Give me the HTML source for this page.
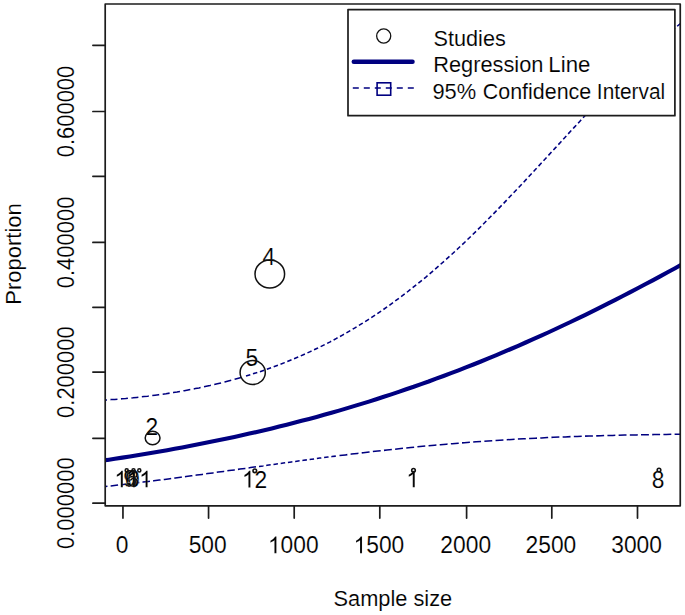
<!DOCTYPE html>
<html><head><meta charset="utf-8"><title>Meta-regression plot</title>
<style>
html,body{margin:0;padding:0;background:#fff;}
body{width:685px;height:615px;overflow:hidden;}
svg{display:block;}
text{font-family:"Liberation Sans",sans-serif;fill:#000;stroke:#fff;stroke-width:0.14px;}
.g1{stroke:#fff;stroke-width:12;}
</style></head><body>
<svg width="685" height="615" viewBox="0 0 685 615">
<rect x="0" y="0" width="685" height="615" fill="#fff"/>
<defs><clipPath id="pc"><rect x="105.20" y="4.00" width="575.05" height="501.80"/></clipPath></defs>
<g clip-path="url(#pc)" fill="none" stroke="#000080">
<path d="M100.0 460.9 L107.5 459.9 L114.9 458.7 L122.4 457.6 L129.9 456.4 L137.3 455.2 L144.8 454.0 L152.3 452.7 L159.7 451.5 L167.2 450.2 L174.7 448.8 L182.2 447.4 L189.6 446.0 L197.1 444.6 L204.6 443.1 L212.0 441.6 L219.5 440.1 L227.0 438.5 L234.4 436.9 L241.9 435.3 L249.4 433.6 L256.8 431.9 L264.3 430.2 L271.8 428.4 L279.2 426.5 L286.7 424.7 L294.2 422.8 L301.6 420.8 L309.1 418.9 L316.6 416.9 L324.1 414.8 L331.5 412.7 L339.0 410.6 L346.5 408.4 L353.9 406.1 L361.4 403.9 L368.9 401.6 L376.3 399.2 L383.8 396.8 L391.3 394.4 L398.7 391.9 L406.2 389.3 L413.7 386.8 L421.1 384.1 L428.6 381.5 L436.1 378.7 L443.5 376.0 L451.0 373.2 L458.5 370.3 L465.9 367.4 L473.4 364.5 L480.9 361.5 L488.4 358.4 L495.8 355.4 L503.3 352.2 L510.8 349.0 L518.2 345.8 L525.7 342.5 L533.2 339.2 L540.6 335.9 L548.1 332.5 L555.6 329.0 L563.0 325.5 L570.5 322.0 L578.0 318.4 L585.4 314.8 L592.9 311.1 L600.4 307.4 L607.8 303.7 L615.3 299.9 L622.8 296.0 L630.3 292.2 L637.7 288.3 L645.2 284.3 L652.7 280.4 L660.1 276.4 L667.6 272.3 L675.1 268.2 L682.5 264.1 L690.0 260.0" stroke-width="4.1" stroke-linecap="round" stroke-linejoin="round"/>
<path d="M100.0 400.3 L103.7 400.1 L107.3 399.9 L111.0 399.6 L114.7 399.4 L118.3 399.1 L122.0 398.8 L125.7 398.5 L129.3 398.1 L133.0 397.8 L136.7 397.4 L140.3 397.0 L144.0 396.6 L147.7 396.2 L151.3 395.7 L155.0 395.2 L158.7 394.7 L162.3 394.2 L166.0 393.7 L169.7 393.1 L173.3 392.6 L177.0 392.0 L180.7 391.3 L184.3 390.7 L188.0 390.0 L191.7 389.3 L195.3 388.6 L199.0 387.9 L202.7 387.1 L206.3 386.3 L210.0 385.5 L213.7 384.6 L217.3 383.8 L221.0 382.9 L224.7 382.0 L228.3 381.0 L232.0 380.0 L235.7 379.0 L239.3 378.0 L243.0 376.9" stroke-width="1.55" stroke-dasharray="7 3.5"/>
<path d="M246.0 376.0 L252.4 374.0 L258.9 372.0 L265.3 369.8 L271.7 367.5 L278.2 365.1 L284.6 362.6 L291.0 360.0 L297.5 357.3 L303.9 354.5 L310.3 351.6 L316.8 348.5 L323.2 345.4 L329.7 342.1 L336.1 338.6 L342.5 335.1 L349.0 331.4 L355.4 327.6 L361.8 323.7 L368.3 319.6 L374.7 315.4 L381.1 311.1 L387.6 306.6 L394.0 301.9 L400.4 297.2 L406.9 292.3 L413.3 287.2 L419.7 282.1 L426.2 276.8 L432.6 271.3 L439.0 265.7 L445.5 260.0 L451.9 254.2 L458.3 248.3 L464.8 242.2 L471.2 236.0 L477.7 229.7 L484.1 223.3 L490.5 216.8 L497.0 210.2 L503.4 203.6 L509.8 196.8 L516.3 190.0 L522.7 183.2 L529.1 176.3 L535.6 169.3 L542.0 162.4 L548.4 155.4 L554.9 148.4 L561.3 141.4 L567.7 134.4 L574.2 127.4 L580.6 120.5 L587.0 113.6 L593.5 106.7 L599.9 99.9 L606.3 93.2 L612.8 86.6 L619.2 80.0 L625.7 73.6 L632.1 67.2 L638.5 61.0 L645.0 54.9 L651.4 48.9 L657.8 43.0 L664.3 37.3 L670.7 31.7 L677.1 26.3 L683.6 21.0 L690.0 15.8" stroke-width="1.55" stroke-dasharray="4.5 2.8"/>
<path d="M100.0 487.1 L105.4 486.5 L110.8 485.9 L116.1 485.3 L121.5 484.7 L126.9 484.1 L132.3 483.4 L137.7 482.8 L143.0 482.1 L148.4 481.5 L153.8 480.8 L159.2 480.1 L164.6 479.4 L169.9 478.7 L175.3 478.0 L180.7 477.3 L186.1 476.5 L191.4 475.8 L196.8 475.1 L202.2 474.4 L207.6 473.6 L213.0 472.9 L218.3 472.1 L223.7 471.4 L229.1 470.6 L234.5 469.9 L239.9 469.1 L245.2 468.4 L250.6 467.6 L256.0 466.8" stroke-width="1.55" stroke-dasharray="7.5 3.2"/>
<path d="M259.0 466.4 L263.1 465.9 L267.1 465.3 L271.2 464.7 L275.2 464.2 L279.3 463.6 L283.3 463.1 L287.4 462.5 L291.4 461.9 L295.5 461.4 L299.5 460.8 L303.6 460.3 L307.6 459.8 L311.7 459.2 L315.7 458.7 L319.8 458.1 L323.8 457.6 L327.9 457.1 L331.9 456.6 L336.0 456.1" stroke-width="1.55" stroke-dasharray="4.5 2.8"/>
<path d="M339.5 455.6 L345.4 454.9 L351.4 454.1 L357.3 453.4 L363.3 452.7 L369.2 452.0 L375.1 451.3 L381.1 450.7 L387.0 450.0 L393.0 449.4 L398.9 448.7 L404.8 448.1 L410.8 447.5 L416.7 446.9 L422.7 446.3 L428.6 445.8 L434.6 445.2 L440.5 444.7 L446.4 444.2 L452.4 443.7 L458.3 443.2 L464.3 442.7 L470.2 442.3 L476.1 441.8 L482.1 441.4 L488.0 441.0 L494.0 440.6 L499.9 440.2 L505.8 439.8 L511.8 439.5 L517.7 439.1 L523.7 438.8 L529.6 438.5 L535.5 438.2 L541.5 437.9 L547.4 437.6 L553.4 437.3 L559.3 437.1 L565.2 436.9 L571.2 436.6 L577.1 436.4 L583.1 436.2 L589.0 436.0 L594.9 435.9 L600.9 435.7 L606.8 435.5 L612.8 435.4 L618.7 435.2 L624.7 435.1 L630.6 435.0 L636.5 434.9 L642.5 434.8 L648.4 434.7 L654.4 434.6 L660.3 434.5 L666.2 434.4 L672.2 434.3 L678.1 434.3 L684.1 434.2 L690.0 434.2" stroke-width="1.55" stroke-dasharray="7.9 3.3"/>
</g>
<g fill="#000">
<g transform="translate(262.56 264.80) scale(0.9828 1)"><text x="0.00" y="0" font-size="23.2">4</text></g>
<g transform="translate(245.46 366.00) scale(0.9828 1)"><text x="0.00" y="0" font-size="23.2">5</text></g>
<g transform="translate(145.56 435.00) scale(0.9828 1)"><text x="0.00" y="0" font-size="23.2">2</text></g>
<g transform="translate(114.32 487.30) scale(0.9828 1)"><path class="g1" transform="translate(0.00 0) scale(0.011328 -0.011328)" d="M763 0H583V1147Q518 1085 412.5 1023T223 930V1104Q374 1175 487 1276T647 1472H763Z"/><text x="12.90" y="0" font-size="23.2">0</text></g>
<g transform="translate(123.16 487.30) scale(0.9828 1)"><text x="0.00" y="0" font-size="23.2">9</text></g>
<g transform="translate(124.86 487.30) scale(0.9828 1)"><text x="0.00" y="0" font-size="23.2">6</text></g>
<g transform="translate(126.66 487.30) scale(0.9828 1)"><text x="0.00" y="0" font-size="23.2">3</text></g>
<g transform="translate(126.42 487.30) scale(0.9828 1)"><path class="g1" transform="translate(0.00 0) scale(0.011328 -0.011328)" d="M763 0H583V1147Q518 1085 412.5 1023T223 930V1104Q374 1175 487 1276T647 1472H763Z"/><path class="g1" transform="translate(12.90 0) scale(0.011328 -0.011328)" d="M763 0H583V1147Q518 1085 412.5 1023T223 930V1104Q374 1175 487 1276T647 1472H763Z"/></g>
<g transform="translate(241.92 487.50) scale(0.9828 1)"><path class="g1" transform="translate(0.00 0) scale(0.011328 -0.011328)" d="M763 0H583V1147Q518 1085 412.5 1023T223 930V1104Q374 1175 487 1276T647 1472H763Z"/><text x="12.90" y="0" font-size="23.2">2</text></g>
<g transform="translate(406.26 487.30) scale(0.9828 1)"><path class="g1" transform="translate(0.00 0) scale(0.011328 -0.011328)" d="M763 0H583V1147Q518 1085 412.5 1023T223 930V1104Q374 1175 487 1276T647 1472H763Z"/></g>
<g transform="translate(651.76 487.50) scale(0.9828 1)"><text x="0.00" y="0" font-size="23.2">8</text></g>
</g>
<g fill="none" stroke="#111" stroke-width="1.5">
<ellipse cx="269.8" cy="274" rx="14.8" ry="13.9"/>
<ellipse cx="252.7" cy="372.5" rx="12.6" ry="12"/>
<ellipse cx="152.6" cy="438" rx="7.4" ry="6.8"/>
<circle cx="126.7" cy="470.4" r="1.55" stroke-width="1.5"/>
<circle cx="133.5" cy="470.4" r="1.55" stroke-width="1.5"/>
<circle cx="139.3" cy="470.4" r="1.55" stroke-width="1.5"/>
<circle cx="254.8" cy="470.8" r="1.8" stroke-width="1.6"/>
<circle cx="413.5" cy="470.3" r="1.8" stroke-width="1.6"/>
<circle cx="659.0" cy="470.1" r="1.8" stroke-width="1.6"/>
</g>
<g fill="none" stroke="#1c1c1c" stroke-width="1.7" stroke-linejoin="round" stroke-linecap="round">
<rect x="105.20" y="4.00" width="575.05" height="501.80"/>
<path d="M122.95 505.80 V518.1"/>
<path d="M208.56 505.80 V518.1"/>
<path d="M294.20 505.80 V518.1"/>
<path d="M379.80 505.80 V518.1"/>
<path d="M466.60 505.80 V518.1"/>
<path d="M551.80 505.80 V518.1"/>
<path d="M637.50 505.80 V518.1"/>
<path d="M92.9 503.20 H105.20"/>
<path d="M92.9 438.30 H105.20"/>
<path d="M92.9 372.10 H105.20"/>
<path d="M92.9 307.30 H105.20"/>
<path d="M92.9 242.45 H105.20"/>
<path d="M92.9 176.30 H105.20"/>
<path d="M92.9 111.50 H105.20"/>
<path d="M92.9 45.30 H105.20"/>
</g>
<g fill="#000">
<g transform="translate(115.71 553.20) scale(0.9828 1)"><text x="0.00" y="0" font-size="23.2">0</text></g>
<g transform="translate(188.64 553.20) scale(0.9828 1)"><text x="0.00" y="0" font-size="23.2">5</text><text x="12.90" y="0" font-size="23.2">0</text><text x="25.81" y="0" font-size="23.2">0</text></g>
<g transform="translate(267.94 553.20) scale(0.9828 1)"><path class="g1" transform="translate(0.00 0) scale(0.011328 -0.011328)" d="M763 0H583V1147Q518 1085 412.5 1023T223 930V1104Q374 1175 487 1276T647 1472H763Z"/><text x="12.90" y="0" font-size="23.2">0</text><text x="25.81" y="0" font-size="23.2">0</text><text x="38.71" y="0" font-size="23.2">0</text></g>
<g transform="translate(353.54 553.20) scale(0.9828 1)"><path class="g1" transform="translate(0.00 0) scale(0.011328 -0.011328)" d="M763 0H583V1147Q518 1085 412.5 1023T223 930V1104Q374 1175 487 1276T647 1472H763Z"/><text x="12.90" y="0" font-size="23.2">5</text><text x="25.81" y="0" font-size="23.2">0</text><text x="38.71" y="0" font-size="23.2">0</text></g>
<g transform="translate(440.34 553.20) scale(0.9828 1)"><text x="0.00" y="0" font-size="23.2">2</text><text x="12.90" y="0" font-size="23.2">0</text><text x="25.81" y="0" font-size="23.2">0</text><text x="38.71" y="0" font-size="23.2">0</text></g>
<g transform="translate(525.54 553.20) scale(0.9828 1)"><text x="0.00" y="0" font-size="23.2">2</text><text x="12.90" y="0" font-size="23.2">5</text><text x="25.81" y="0" font-size="23.2">0</text><text x="38.71" y="0" font-size="23.2">0</text></g>
<g transform="translate(611.24 553.20) scale(0.9828 1)"><text x="0.00" y="0" font-size="23.2">3</text><text x="12.90" y="0" font-size="23.2">0</text><text x="25.81" y="0" font-size="23.2">0</text><text x="38.71" y="0" font-size="23.2">0</text></g>
<g transform="translate(74.30 549.02) rotate(-90) scale(0.9470 1)"><text x="0.00" y="0" font-size="23.2">0</text><text x="12.90" y="0" font-size="23.2">.</text><text x="19.35" y="0" font-size="23.2">0</text><text x="32.25" y="0" font-size="23.2">0</text><text x="45.15" y="0" font-size="23.2">0</text><text x="58.06" y="0" font-size="23.2">0</text><text x="70.96" y="0" font-size="23.2">0</text><text x="83.86" y="0" font-size="23.2">0</text></g>
<g transform="translate(74.30 417.92) rotate(-90) scale(0.9470 1)"><text x="0.00" y="0" font-size="23.2">0</text><text x="12.90" y="0" font-size="23.2">.</text><text x="19.35" y="0" font-size="23.2">2</text><text x="32.25" y="0" font-size="23.2">0</text><text x="45.15" y="0" font-size="23.2">0</text><text x="58.06" y="0" font-size="23.2">0</text><text x="70.96" y="0" font-size="23.2">0</text><text x="83.86" y="0" font-size="23.2">0</text></g>
<g transform="translate(74.30 288.27) rotate(-90) scale(0.9470 1)"><text x="0.00" y="0" font-size="23.2">0</text><text x="12.90" y="0" font-size="23.2">.</text><text x="19.35" y="0" font-size="23.2">4</text><text x="32.25" y="0" font-size="23.2">0</text><text x="45.15" y="0" font-size="23.2">0</text><text x="58.06" y="0" font-size="23.2">0</text><text x="70.96" y="0" font-size="23.2">0</text><text x="83.86" y="0" font-size="23.2">0</text></g>
<g transform="translate(74.30 157.32) rotate(-90) scale(0.9470 1)"><text x="0.00" y="0" font-size="23.2">0</text><text x="12.90" y="0" font-size="23.2">.</text><text x="19.35" y="0" font-size="23.2">6</text><text x="32.25" y="0" font-size="23.2">0</text><text x="45.15" y="0" font-size="23.2">0</text><text x="58.06" y="0" font-size="23.2">0</text><text x="70.96" y="0" font-size="23.2">0</text><text x="83.86" y="0" font-size="23.2">0</text></g>
</g>
<text transform="translate(21.40 304.82) rotate(-90) scale(0.9622 1)" font-size="22.9">Proportion</text>
<text transform="translate(333.52 606.30) scale(0.9522 1)" font-size="22.9">Sample size</text>
<rect x="348" y="9.6" width="326.9" height="106.1" fill="#fff" stroke="#1c1c1c" stroke-width="1.7" stroke-linejoin="round" stroke-linecap="round"/>
<circle cx="383.7" cy="36" r="7.05" fill="none" stroke="#111" stroke-width="1.3"/>
<path d="M353.8 61.7 H412.5" stroke="#000080" stroke-width="4.5" stroke-linecap="round"/>
<path d="M352.8 88 H414.5" stroke="#000080" stroke-width="1.55" stroke-dasharray="6 5"/>
<rect x="377.1" y="82.8" width="13.6" height="12.4" fill="none" stroke="#000080" stroke-width="1.6"/>
<text transform="translate(433.52 45.50) scale(0.9460 1)" font-size="22.9">Studies</text>
<text transform="translate(433.20 72.40) scale(0.9516 1)" font-size="22.9">Regression</text>
<text transform="translate(548.36 72.40) scale(0.9710 1)" font-size="22.9">Line</text>
<text transform="translate(432.47 98.50) scale(0.9551 1)" font-size="22.9">95%</text>
<text transform="translate(482.79 98.50) scale(0.9363 1)" font-size="22.9">Confidence</text>
<text transform="translate(596.87 98.50) scale(0.9095 1)" font-size="22.9">Interval</text>
</svg></body></html>
